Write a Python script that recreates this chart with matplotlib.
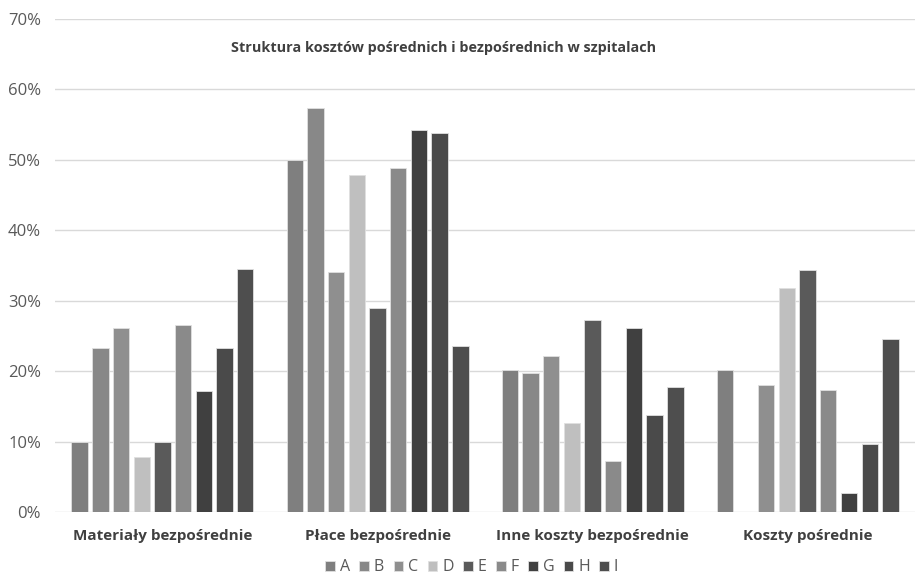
import numpy as np
import matplotlib.pyplot as plt
from matplotlib.ticker import PercentFormatter

plt.rcParams['font.family'] = ['Open Sans', 'DejaVu Sans']

categories = ["Materiały bezpośrednie", "Płace bezpośrednie",
              "Inne koszty bezpośrednie", "Koszty pośrednie"]
series_names = ["A", "B", "C", "D", "E", "F", "G", "H", "I"]

# values in percent, one list per series (A..I), across the 4 categories
A = [10.0, 50.0, 20.1, 20.1]
B = [23.3, 57.3, 19.8, 0.0]
C = [26.1, 34.1, 22.1, 18.1]
D = [7.8, 47.9, 12.6, 31.8]
E = [9.9, 28.9, 27.2, 34.4]
F = [26.6, 48.9, 7.3, 17.3]
G = [17.2, 54.3, 26.1, 2.7]
H = [23.3, 53.8, 13.8, 9.6]
I = [34.5, 23.6, 17.7, 24.5]
series = [A, B, C, D, E, F, G, H, I]

colors = ["#7f7f7f", "#888888", "#8f8f8f", "#bfbfbf", "#5a5a5a",
          "#8a8a8a", "#404040", "#4a4a4a", "#4e4e4e"]

fig = plt.figure(figsize=(9.16, 5.75), dpi=100)
ax = fig.add_axes([0.060, 0.1096, 0.939, 0.8574])

x = np.arange(len(categories))
pitch = 0.0963
width = 0.076
for i, (name, vals) in enumerate(zip(series_names, series)):
    offs = (i - 4) * pitch
    ax.bar(x + offs, vals, width=width, color=colors[i], edgecolor="#e0e0e0",
           linewidth=0.6, label=name, zorder=3)

ax.set_xlim(-0.5, len(categories) - 0.5)
ax.set_ylim(0, 70)
ax.set_yticks(np.arange(0, 71, 10))
ax.yaxis.set_major_formatter(PercentFormatter(decimals=0))
ax.grid(axis="y", color="#d9d9d9", linewidth=1, zorder=0)
for s in ax.spines.values():
    s.set_visible(False)
ax.tick_params(axis="y", length=0, labelsize=12, labelcolor="#595959", pad=10)
ax.tick_params(axis="x", length=0, pad=12)
ax.set_xticks(x)
ax.set_xticklabels(categories, fontsize=11, fontweight="bold", color="#404040")

ax.text(0.452, 0.941, "Struktura kosztów pośrednich i bezpośrednich w szpitalach",
        transform=ax.transAxes, ha="center", va="center", fontsize=10.4,
        fontweight="bold", color="#404040")

fig.legend(loc="lower center", bbox_to_anchor=(0.515, -0.02), ncol=9, frameon=False,
           handlelength=0.6, handleheight=0.6, handletextpad=0.3, columnspacing=0.6,
           fontsize=11.5, labelcolor="#595959", borderpad=0.2)

fig.savefig("out.png", dpi=100)
